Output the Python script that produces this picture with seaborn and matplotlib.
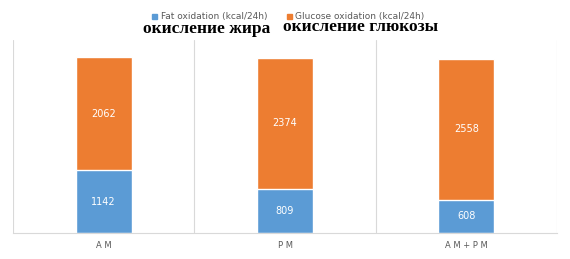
import matplotlib
matplotlib.use("Agg")
import matplotlib.pyplot as plt
import seaborn as sns
import pandas as pd
from matplotlib.patches import Rectangle

categories = ["A M", "P M", "A M + P M"]
fat = [1142, 809, 608]
glucose = [2062, 2374, 2558]
series_names = ["Fat oxidation (kcal/24h)", "Glucose oxidation (kcal/24h)"]
ru_labels = ["окисление жира", "окисление глюкозы"]

blue = "#5B9BD5"
orange = "#ED7D31"

sns.set_theme(style="white")
plt.rcParams['font.family'] = ['DejaVu Sans']

df = pd.DataFrame({"cat": categories, "fat": fat, "glucose": glucose})
df["total"] = df["fat"] + df["glucose"]

fig = plt.figure(figsize=(5.7, 2.59), dpi=100)
ax = fig.add_axes([0.0228, 0.1004, 0.9544, 0.7452])

sns.barplot(data=df, x="cat", y="total", color=orange, saturation=1, width=0.31, ax=ax)
sns.barplot(data=df, x="cat", y="fat", color=blue, saturation=1, width=0.31, ax=ax)

bars = ax.patches
n = len(categories)
for i, p in enumerate(bars[:n]):
    y0 = fat[i]
    ax.text(p.get_x() + p.get_width() / 2, y0 + glucose[i] / 2, f"{glucose[i]}",
            ha="center", va="center", color="white", fontsize=7)
for i, p in enumerate(bars[n:]):
    ax.text(p.get_x() + p.get_width() / 2, fat[i] / 2, f"{fat[i]}",
            ha="center", va="center", color="white", fontsize=7)

ax.set_ylim(0, 3515)
ax.set_xlim(-0.5, n - 0.5)
ax.set_yticks([])
ax.set_xlabel("")
ax.set_ylabel("")
ax.tick_params(axis="x", length=0, labelsize=6, colors="#595959", pad=6)
for s in ["top", "right", "left"]:
    ax.spines[s].set_visible(False)
ax.spines["bottom"].set_color("#D9D9D9")
ax.spines["bottom"].set_linewidth(0.8)
for xb in [-0.5, 0.5, 1.5, 2.5]:
    ax.axvline(xb, color="#D9D9D9", lw=0.8, zorder=0)

# legend
fig.patches.append(Rectangle((152 / 570, 1 - 19 / 259), 5 / 570, 5 / 259,
                             transform=fig.transFigure, color=blue))
fig.text(161 / 570, 1 - 16 / 259, series_names[0], fontsize=6.5, color="#595959", va="center")
fig.patches.append(Rectangle((287 / 570, 1 - 19 / 259), 5 / 570, 5 / 259,
                             transform=fig.transFigure, color=orange))
fig.text(295 / 570, 1 - 16 / 259, series_names[1], fontsize=6.5, color="#595959", va="center")

fig.text(143 / 570, 1 - 29 / 259, ru_labels[0], fontsize=12.5, fontweight="bold",
         family=["Liberation Serif", "DejaVu Serif"], color="black", va="center")
fig.text(283 / 570, 1 - 27 / 259, ru_labels[1], fontsize=12.5, fontweight="bold",
         family=["Liberation Serif", "DejaVu Serif"], color="black", va="center")

fig.savefig("out.png", dpi=100, facecolor="white")
